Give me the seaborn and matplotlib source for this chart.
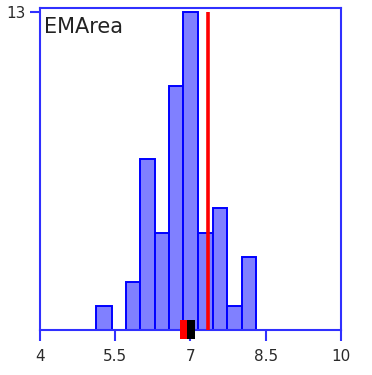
import matplotlib
matplotlib.use("Agg")
import matplotlib.pyplot as plt
import numpy as np
import seaborn as sns

# Histogram of EMArea: bin edges and counts per bin
bin_edges = [5.12, 5.43, 5.71, 6.00, 6.29, 6.57, 6.86, 7.15, 7.44, 7.73, 8.02, 8.31]
bin_counts = [1, 0, 2, 7, 4, 10, 13, 4, 5, 1, 3]

reference_value = 7.35          # red vertical line
summary_values = [6.86, 7.01]   # small boxes on the axis (red, black)
summary_colors = ["#FF0000", "#000000"]
summary_widths = [0.14, 0.16]

x_ticks = [4, 5.5, 7, 8.5, 10]
x_tick_labels = ["4", "5.5", "7", "8.5", "10"]
y_ticks = [13]
title = "EMArea"

sns.set_style("white")
plt.rcParams["font.family"] = ["DejaVu Sans"]

fig = plt.figure(figsize=(3.72, 3.75), dpi=100)
ax = fig.add_axes([0.1075, 0.1187, 0.8091, 0.8587])

centers = [(a + b) / 2 for a, b in zip(bin_edges[:-1], bin_edges[1:])]
sns.histplot(x=centers, weights=bin_counts, bins=bin_edges, ax=ax,
             color="#8080FF", alpha=1, edgecolor="#0000FF", linewidth=1.4)

ax.vlines(reference_value, 0, max(bin_counts), color="#FF0000", lw=2.6, zorder=4)

ax.bar(summary_values, 0.78, bottom=-0.35, width=summary_widths,
       color=summary_colors, clip_on=False, zorder=6, linewidth=0)

ax.set_xlim(4, 10)
ax.set_ylim(0, 13.16)
ax.set_xticks(x_ticks)
ax.set_xticklabels(x_tick_labels)
ax.set_yticks(y_ticks)
ax.set_xlabel("")
ax.set_ylabel("")

for s in ax.spines.values():
    s.set_color("#3030FF")
    s.set_linewidth(1.5)

ax.tick_params(axis="both", direction="out", color="#3030FF", width=1.5,
               labelsize=11, labelcolor="#2a2a2a", bottom=True, left=True)
ax.tick_params(axis="x", length=8, pad=5)
ax.tick_params(axis="y", length=7.5, pad=3)

ax.text(0.013, 0.975, title, transform=ax.transAxes, ha="left", va="top",
        fontsize=15, color="#222222")

fig.savefig("out.png", dpi=100)
